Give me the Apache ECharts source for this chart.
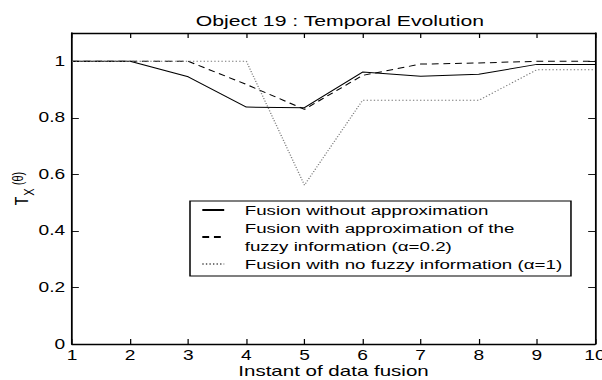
<!DOCTYPE html>
<html>
<head>
<meta charset="utf-8">
<script src="https://cdn.jsdelivr.net/npm/echarts@6/dist/echarts.min.js"></script>
<style>
html,body{margin:0;padding:0;background:#fff;overflow:hidden}
#wrap{width:602px;height:380px;overflow:hidden;position:relative}
#c{width:440px;height:380px;transform:scaleX(1.368182);transform-origin:0 0}
</style>
</head>
<body>
<div id="wrap"><div id="c"></div></div>
<script>
const instants = [1, 2, 3, 4, 5, 6, 7, 8, 9, 10];
const fusionNoApprox = [1.0, 1.0, 0.945, 0.838, 0.836, 0.962, 0.947, 0.954, 0.989, 0.989];
const fusionApprox = [1.0, 1.0, 1.0, 0.918, 0.830, 0.950, 0.990, 0.994, 1.0, 1.0];
const fusionNoFuzzy = [1.0, 1.0, 1.0, 1.0, 0.562, 0.862, 0.862, 0.862, 0.970, 0.970];
const seriesNames = [
  'Fusion without approximation',
  'Fusion with approximation of the\nfuzzy information (\u03b1=0.2)',
  'Fusion with no fuzzy information (\u03b1=1)'
];
const xTicks = [1, 10, 1];   // min, max, interval
const yTicks = [0, 1.1, 0.2];

// the reference figure is stretched horizontally; the chart is laid out in
// un-stretched units and stretched by K with CSS
const K = 602 / 440;
const FONT = 'Liberation Sans, Arial, sans-serif';
const pairs = vals => instants.map((x, i) => [x, vals[i]]);

const chart = echarts.init(document.getElementById('c'), null, {renderer: 'svg'});
const axisBase = {
  axisLine: {show: true, onZero: false, lineStyle: {color: '#000', width: 1.3}},
  axisTick: {show: true, inside: true, length: 5, lineStyle: {color: '#000', width: 0.9}},
  splitLine: {show: false}
};
chart.setOption({
  animation: false,
  backgroundColor: '#fff',
  title: {
    text: 'Object 19 : Temporal Evolution',
    left: 333 / K, top: 8, textAlign: 'center',
    textStyle: {fontFamily: FONT, fontSize: 15.5, fontWeight: 'normal', color: '#000'}
  },
  grid: {left: 72 / K, right: 7 / K, top: 33, bottom: 36, containLabel: false, outerBoundsMode: 'none'},
  legend: {
    orient: 'vertical',
    left: 190 / K, top: 201,
    padding: [0, 6.5, 3, 8],
    itemGap: 0,
    itemWidth: 16, itemHeight: 10,
    borderColor: '#000', borderWidth: 1.1,
    backgroundColor: '#fff',
    itemStyle: {opacity: 0},
    textStyle: {fontFamily: FONT, fontSize: 13.7, color: '#000', lineHeight: 18, padding: [0, 0, 0, 10]},
    data: seriesNames
  },
  xAxis: [
    Object.assign({}, axisBase, {
      type: 'value', min: xTicks[0], max: xTicks[1], interval: xTicks[2], position: 'bottom',
      axisLabel: {fontFamily: FONT, fontSize: 14, color: '#000', margin: 4},
      name: 'Instant of data fusion', nameLocation: 'middle', nameGap: 19, nameMoveOverlap: false,
      nameTextStyle: {fontFamily: FONT, fontSize: 15, color: '#000'}
    }),
    Object.assign({}, axisBase, {
      type: 'value', min: xTicks[0], max: xTicks[1], interval: xTicks[2], position: 'top',
      axisLabel: {show: false}
    })
  ],
  yAxis: [
    Object.assign({}, axisBase, {
      type: 'value', min: yTicks[0], max: yTicks[1], interval: yTicks[2], position: 'left',
      axisLabel: {fontFamily: FONT, fontSize: 14, color: '#000', margin: 5, showMaxLabel: false,
        formatter: v => (Math.abs(v - 1.1) < 1e-6 ? '' : String(+v.toFixed(1)))},
      name: '{t|T}{s|X}{p| (\u03b8)}', nameLocation: 'middle', nameGap: 30, nameRotate: 90,
      nameMoveOverlap: false,
      nameTextStyle: {
        fontFamily: FONT, color: '#000',
        rich: {
          t: {fontFamily: FONT, fontSize: 14, color: '#000', verticalAlign: 'bottom'},
          s: {fontFamily: FONT, fontSize: 11, color: '#000', verticalAlign: 'bottom', padding: [0, 0, -4, 1]},
          p: {fontFamily: FONT, fontSize: 11, color: '#000', verticalAlign: 'bottom', padding: [0, 0, 4, 0]}
        }
      }
    }),
    Object.assign({}, axisBase, {
      type: 'value', min: yTicks[0], max: yTicks[1], interval: yTicks[2], position: 'right',
      axisLabel: {show: false}
    })
  ],
  series: [
    {name: seriesNames[0], type: 'line', data: pairs(fusionNoApprox), symbol: 'none',
      lineStyle: {color: '#000', width: 1, type: 'solid'}, itemStyle: {color: '#000'}},
    {name: seriesNames[1], type: 'line', data: pairs(fusionApprox), symbol: 'none',
      lineStyle: {color: '#000', width: 1, type: [5, 3.5]}, itemStyle: {color: '#000'}},
    {name: seriesNames[2], type: 'line', data: pairs(fusionNoFuzzy), symbol: 'none',
      lineStyle: {color: '#777', width: 1, type: [1, 1.6]}, itemStyle: {color: '#777'}}
  ]
});
</script>
</body>
</html>
